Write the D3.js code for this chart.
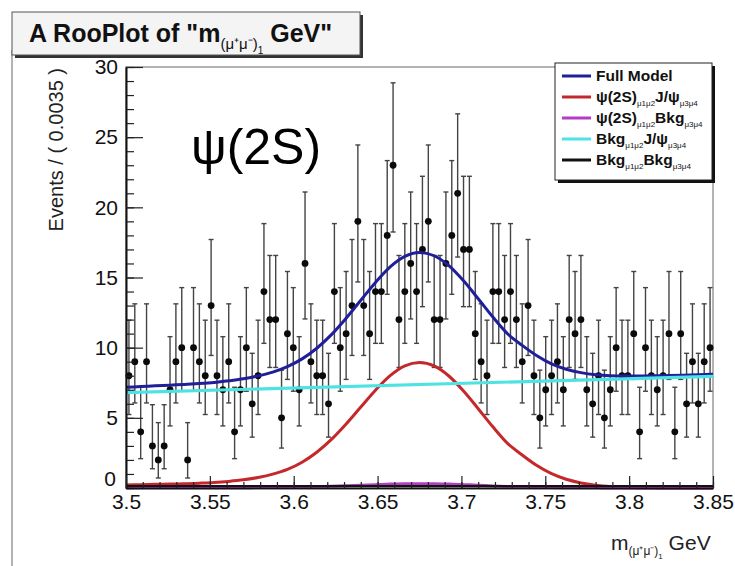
<!DOCTYPE html>
<html>
<head>
<meta charset="utf-8">
<script src="https://cdn.jsdelivr.net/npm/d3@7"></script>
<style>
  html, body { margin: 0; padding: 0; background: #fff; }
  svg { display: block; }
  text { font-family: "Liberation Sans", Arial, Helvetica, sans-serif; }
</style>
</head>
<body>
<svg id="chart" width="735" height="566"></svg>
<script>
// ---- binned dataset: events per 0.0035 GeV bin, 100 bins from 3.5 to 3.85 GeV
const massRange = [3.5, 3.85];
const binWidth = 0.0035;
const counts = [
  8, 9, 4, 9, 3, 2, 3, 7, 9, 10,
  2, 10, 9, 8, 13, 8, 7, 9, 4, 7,
  10, 6, 8, 14, 12, 12, 5, 11, 10, 7,
  16, 9, 8, 8, 6, 14, 10, 11, 13, 19,
  13, 11, 14, 14, 18, 23, 12, 14, 16, 14,
  17, 19, 12, 12, 16, 18, 21, 17, 17, 11,
  9, 8, 14, 14, 12, 14, 12, 9, 13, 8,
  5, 7, 8, 9, 7, 12, 11, 12, 7, 6,
  8, 5, 7, 10, 8, 8, 11, 4, 10, 8,
  7, 8, 11, 4, 11, 6, 9, 6, 9, 10
];

// ---- fitted model curves, sampled every 0.00875 GeV (41 samples over the range)
const curveStep = 0.00875;
const fullModel = [
  7.18, 7.23, 7.28, 7.33, 7.38, 7.44, 7.52, 7.64, 7.78, 7.99,
  8.26, 8.65, 9.20, 9.96, 10.93, 12.10, 13.38, 14.65, 15.76, 16.51,
  16.79, 16.55, 15.84, 14.76, 13.49, 12.18, 10.99, 10.16, 9.42, 8.84,
  8.46, 8.22, 8.07, 8.00, 7.98, 7.98, 7.99, 8.01, 8.04, 8.07, 8.10
];
const psiJpsi = [
  0.22, 0.24, 0.26, 0.28, 0.30, 0.34, 0.39, 0.47, 0.58, 0.75,
  0.99, 1.33, 1.84, 2.55, 3.46, 4.56, 5.77, 6.97, 8.01, 8.71,
  8.95, 8.70, 7.98, 6.91, 5.65, 4.36, 3.18, 2.35, 1.60, 1.02,
  0.62, 0.36, 0.20, 0.10, 0.05, 0.02, 0.01, 0.00, 0.00, 0.00, 0.00
];
const psiBkg = [
  0.01, 0.01, 0.01, 0.01, 0.01, 0.01, 0.01, 0.02, 0.02, 0.03,
  0.03, 0.05, 0.06, 0.09, 0.12, 0.16, 0.20, 0.24, 0.28, 0.30,
  0.31, 0.30, 0.28, 0.24, 0.20, 0.15, 0.11, 0.08, 0.06, 0.04,
  0.02, 0.01, 0.01, 0.00, 0.00, 0.00, 0.00, 0.00, 0.00, 0.00, 0.00
];
// linear components: values at the two ends of the range
const bkgJpsi = [6.80, 7.95];
const bkgBkg = [0.15, 0.15];

// ---- axis ticks
const xMajorTicks = [3.5, 3.55, 3.6, 3.65, 3.7, 3.75, 3.8, 3.85];
const xTickLabels = ["3.5", "3.55", "3.6", "3.65", "3.7", "3.75", "3.8", "3.85"];
const yMajorTicks = [0, 5, 10, 15, 20, 25, 30];

// ---- legend entries (rich text segments: [text, isSubscript])
const legendColors = ["#1f1f9a", "#c4282b", "#b53cc6", "#4ee3e3", "#111111"];
const legendLabels = [
  [["Full Model", false]],
  [["\u03c8(2S)", false], ["\u03bc1\u03bc2", true], ["J/\u03c8", false], ["\u03bc3\u03bc4", true]],
  [["\u03c8(2S)", false], ["\u03bc1\u03bc2", true], ["Bkg", false], ["\u03bc3\u03bc4", true]],
  [["Bkg", false], ["\u03bc1\u03bc2", true], ["J/\u03c8", false], ["\u03bc3\u03bc4", true]],
  [["Bkg", false], ["\u03bc1\u03bc2", true], ["Bkg", false], ["\u03bc3\u03bc4", true]]
];

const svg = d3.select("#chart");

const x = d3.scaleLinear().domain(massRange).range([126, 713]);
const y = d3.scaleLinear().domain([0, 30]).range([488, 67]);

// canvas edge on the left
svg.append("line").attr("x1", 12).attr("x2", 12).attr("y1", 50).attr("y2", 566)
  .attr("stroke", "#9a9a9a").attr("stroke-width", 1.5);

// ---- title pave with shadow
const tg = svg.append("g");
tg.append("rect").attr("x", 15).attr("y", 15).attr("width", 348).attr("height", 43).attr("fill", "#333");
tg.append("rect").attr("x", 12).attr("y", 12).attr("width", 348).attr("height", 43)
  .attr("fill", "#f4f4f4").attr("stroke", "#555").attr("stroke-width", 1);
const title = tg.append("text").attr("x", 29).attr("y", 42)
  .attr("font-size", 25).attr("font-weight", "bold").attr("fill", "#111");
title.append("tspan").text("A RooPlot of \"m");
title.append("tspan").attr("font-size", 15).attr("font-weight", "normal").attr("dy", 7).text("(\u03bc\u207a\u03bc\u207b)");
title.append("tspan").attr("font-size", 10).attr("font-weight", "normal").attr("dy", 5).text("1");
title.append("tspan").attr("dy", -12).text(" GeV\"");

// ---- frame
svg.append("rect").attr("x", x(massRange[0])).attr("y", y(30))
  .attr("width", x(massRange[1]) - x(massRange[0])).attr("height", y(0) - y(30))
  .attr("fill", "none").attr("stroke", "#9a9a9a").attr("stroke-width", 1.5);

// ---- data points with asymmetric Poisson error bars
function poissonInterval(n) {
  const hi = n + 1 + Math.sqrt(n + 0.75);
  const lo = n === 0 ? 0 : n * Math.pow(1 - 1 / (9 * n) - 1 / (3 * Math.sqrt(n)), 3);
  return [lo, hi];
}
const points = counts.map((n, i) => {
  const [lo, hi] = poissonInterval(n);
  return { m: massRange[0] + binWidth * (i + 0.5), n, lo, hi };
});

const dataG = svg.append("g");
const bars = dataG.selectAll("g.pt").data(points).join("g").attr("class", "pt");
bars.append("line")
  .attr("x1", d => x(d.m)).attr("x2", d => x(d.m))
  .attr("y1", d => y(d.lo)).attr("y2", d => y(d.hi))
  .attr("stroke", "#444").attr("stroke-width", 1.4);
bars.append("line")
  .attr("x1", d => x(d.m) - 2.5).attr("x2", d => x(d.m) + 2.5)
  .attr("y1", d => y(d.hi)).attr("y2", d => y(d.hi))
  .attr("stroke", "#444").attr("stroke-width", 1.4);
bars.append("line")
  .attr("x1", d => x(d.m) - 2.5).attr("x2", d => x(d.m) + 2.5)
  .attr("y1", d => y(d.lo)).attr("y2", d => y(d.lo))
  .attr("stroke", "#444").attr("stroke-width", 1.4);
bars.append("line")
  .attr("x1", d => x(d.m - binWidth / 2)).attr("x2", d => x(d.m + binWidth / 2))
  .attr("y1", d => y(d.n)).attr("y2", d => y(d.n))
  .attr("stroke", "#111").attr("stroke-width", 1.2);
bars.append("circle")
  .attr("cx", d => x(d.m)).attr("cy", d => y(d.n)).attr("r", 3.4)
  .attr("fill", "#0a0a0a");

// ---- model curves
const sampleMass = d3.range(fullModel.length).map(k => massRange[0] + curveStep * k);
const line = d3.line().x(d => x(d[0])).y(d => y(d[1])).curve(d3.curveMonotoneX);
const curvesG = svg.append("g").attr("fill", "none").attr("stroke-linejoin", "round");

curvesG.append("path").datum(sampleMass.map((m, k) => [m, fullModel[k]]))
  .attr("d", line).attr("stroke", legendColors[0]).attr("stroke-width", 3);
curvesG.append("path").datum(sampleMass.map((m, k) => [m, psiJpsi[k]]))
  .attr("d", line).attr("stroke", legendColors[1]).attr("stroke-width", 3);
curvesG.append("path").datum(sampleMass.map((m, k) => [m, psiBkg[k]]))
  .attr("d", line).attr("stroke", legendColors[2]).attr("stroke-width", 3);
curvesG.append("path").datum([[massRange[0], bkgJpsi[0]], [massRange[1], bkgJpsi[1]]])
  .attr("d", line).attr("stroke", legendColors[3]).attr("stroke-width", 3.2);
curvesG.append("path").datum([[massRange[0], bkgBkg[0]], [massRange[1], bkgBkg[1]]])
  .attr("d", line).attr("stroke", legendColors[4]).attr("stroke-width", 2);

// ---- axes (ticks inside the frame)
const yAxis = d3.axisLeft(y).tickValues(yMajorTicks).tickFormat(d3.format("d"))
  .tickSizeInner(-17).tickSizeOuter(0).tickPadding(8);
const yMinor = d3.axisLeft(y).tickValues(d3.range(0, 31, 1)).tickFormat("")
  .tickSizeInner(-8).tickSizeOuter(0);
const xAxis = d3.axisBottom(x).tickValues(xMajorTicks).tickFormat((d, i) => xTickLabels[i])
  .tickSizeInner(-12).tickSizeOuter(0).tickPadding(6);
const xMinor = d3.axisBottom(x).tickValues(d3.range(0, 36).map(k => 3.5 + 0.01 * k)).tickFormat("")
  .tickSizeInner(-6).tickSizeOuter(0);

function styleAxis(g) {
  g.selectAll("path.domain").attr("stroke", "#111").attr("stroke-width", 1.6);
  g.selectAll(".tick line").attr("stroke", "#222").attr("stroke-width", 1.2);
  g.selectAll(".tick text").attr("font-size", 21).attr("fill", "#111")
    .attr("font-family", "\"Liberation Sans\", Arial, sans-serif");
}
svg.append("g").attr("transform", `translate(${x(massRange[0])},0)`).call(yMinor).call(styleAxis);
const yAxisG = svg.append("g").attr("transform", `translate(${x(massRange[0])},0)`).call(yAxis).call(styleAxis);
// lift the zero label a little so it sits just above the first mass label
yAxisG.selectAll(".tick text").filter(d => d === 0).attr("dy", "-0.1em").attr("x", -10);
svg.append("g").attr("transform", `translate(0,${y(0)})`).call(xMinor).call(styleAxis);
svg.append("g").attr("transform", `translate(0,${y(0)})`).call(xAxis).call(styleAxis);

// ---- axis titles
svg.append("text").attr("transform", "translate(63,68) rotate(-90)")
  .attr("text-anchor", "end").attr("font-size", 20).attr("fill", "#222")
  .text("Events / ( 0.0035 )");

const xt = svg.append("text").attr("x", 611).attr("y", 550).attr("font-size", 21).attr("fill", "#222");
xt.append("tspan").text("m");
xt.append("tspan").attr("font-size", 12).attr("dy", 5).text("(\u03bc\u207a\u03bc\u207b)");
xt.append("tspan").attr("font-size", 8).attr("dy", 4).text("1");
xt.append("tspan").attr("dy", -9).text(" GeV");

// ---- legend
const lg = svg.append("g");
lg.append("rect").attr("x", 558).attr("y", 66).attr("width", 157).attr("height", 117).attr("fill", "#111");
lg.append("rect").attr("x", 555).attr("y", 63).attr("width", 157).attr("height", 117)
  .attr("fill", "#fff").attr("stroke", "#222").attr("stroke-width", 1);
legendLabels.forEach((segs, i) => {
  const yy = 76 + i * 21;
  lg.append("line").attr("x1", 562).attr("x2", 591).attr("y1", yy).attr("y2", yy)
    .attr("stroke", legendColors[i]).attr("stroke-width", 3);
  const t = lg.append("text").attr("x", 596).attr("y", yy + 5)
    .attr("font-size", 15.5).attr("font-weight", "bold").attr("fill", "#111");
  let sub = false;
  segs.forEach(([txt, isSub]) => {
    const ts = t.append("tspan").text(txt);
    if (isSub && !sub) { ts.attr("font-size", 8).attr("font-weight", "normal").attr("dy", 4); sub = true; }
    else if (!isSub && sub) { ts.attr("dy", -4); sub = false; }
  });
});

// ---- state annotation
svg.append("text").attr("x", 191).attr("y", 164)
  .attr("font-family", "\"Open Sans\", \"Noto Sans\", sans-serif")
  .attr("font-size", 50).attr("fill", "#000").text("\u03c8(2S)");
</script>
</body>
</html>
